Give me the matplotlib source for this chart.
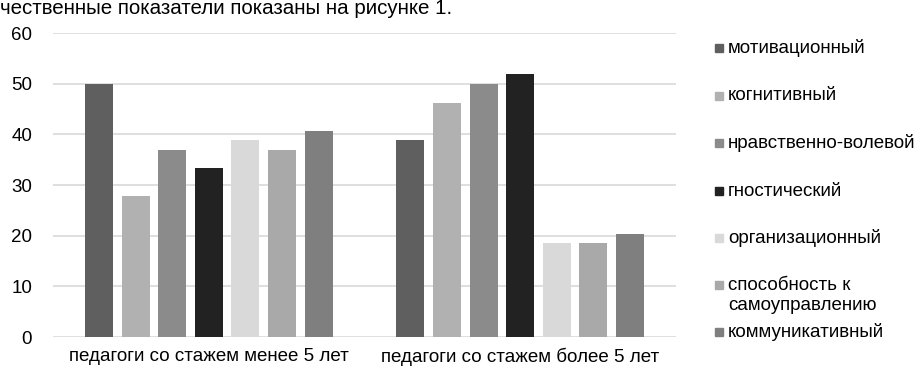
import matplotlib
matplotlib.use("Agg")
import matplotlib.pyplot as plt
from matplotlib.patches import Rectangle
import numpy as np

plt.rcParams['font.family'] = ['Liberation Sans', 'DejaVu Sans']

categories = ["педагоги со стажем менее 5 лет", "педагоги со стажем более 5 лет"]
series_names = ["мотивационный", "когнитивный", "нравственно-волевой", "гностический",
                "организационный", "способность к\nсамоуправлению", "коммуникативный"]
motivational = [50.0, 38.8]
cognitive = [27.8, 46.1]
moral = [37.0, 50.0]
gnostic = [33.3, 52.0]
organizational = [38.8, 18.5]
self_management = [37.0, 18.5]
communicative = [40.6, 20.4]
values = [motivational, cognitive, moral, gnostic, organizational, self_management, communicative]
colors = ["#5f5f5f", "#b1b1b1", "#8b8b8b", "#222222", "#d9d9d9", "#a9a9a9", "#7f7f7f"]
yticks = [0, 10, 20, 30, 40, 50, 60]

fig = plt.figure(figsize=(9.17, 3.68), dpi=100)
ax = fig.add_axes([53/917, 31/368, (676-53)/917, (337-33)/368])

x = np.arange(len(categories))
pitch = 0.1175
width = 0.09
n = len(values)
for i, (vals, c) in enumerate(zip(values, colors)):
    ax.bar(x + (i - (n-1)/2) * pitch, vals, width, color=c, zorder=3)

ax.set_xlim(-0.5, 1.5)
ax.set_ylim(0, 60)
ax.set_yticks(yticks)
ax.set_yticklabels([str(t) for t in yticks], fontsize=13.5)
ax.set_xticks(x)
ax.set_xticklabels(categories, fontsize=13.5)
ax.tick_params(axis='both', length=0)
ax.tick_params(axis='y', pad=15)
ax.tick_params(axis='x', pad=8)
ax.grid(axis='y', color='#d9d9d9', linewidth=1.2, zorder=0)
for s in ax.spines.values():
    s.set_visible(False)

# legend
leg_y = [48, 96, 143, 191, 238, 285, 332]
for name, c, yy in zip(series_names, colors, leg_y):
    fy = 1 - yy/368
    fig.patches.append(Rectangle((715/917, fy - 4/368), 8/917, 8/368, transform=fig.transFigure,
                                 color=c, figure=fig))
    lines = name.split("\n")
    for k, ln in enumerate(lines):
        fig.text(728/917, 1 - (yy + k*20)/368, ln, fontsize=13.5, va='center', ha='left')

fig.text(0, 1 - 14/368, "чественные показатели показаны на рисунке 1.", fontsize=14.8,
         va='baseline', ha='left')

fig.savefig("out.png", dpi=100, facecolor='white')
